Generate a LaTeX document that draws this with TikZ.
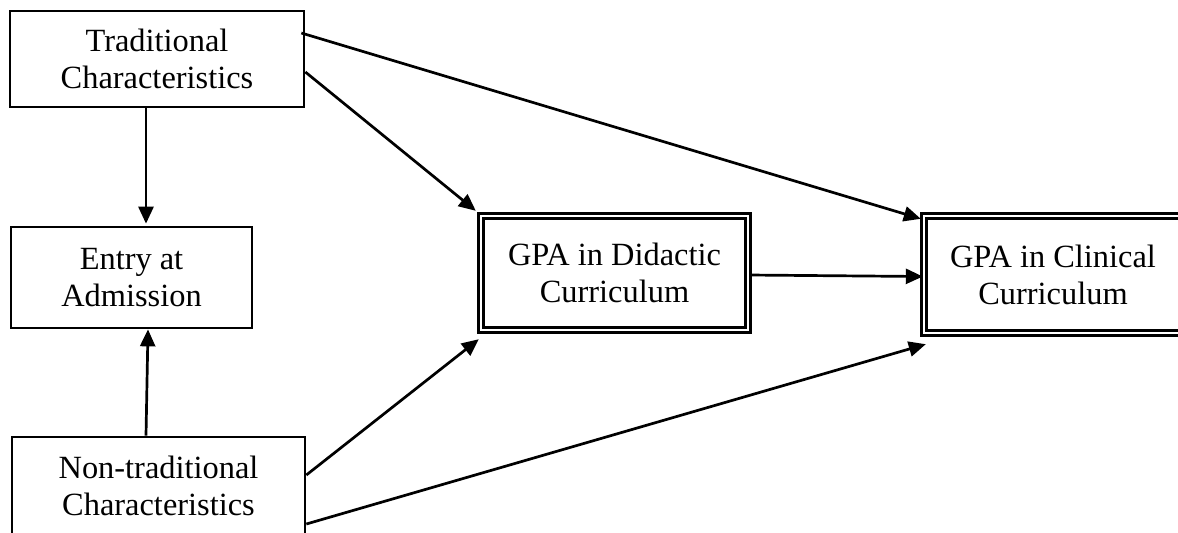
\documentclass[tikz,border=0pt]{standalone}
\usepackage{fontspec}
\setmainfont{Liberation Serif}
\usepackage{tikz}
\usetikzlibrary{arrows.meta,calc}

\begin{document}
\begin{tikzpicture}[
    x=0.5pt, y=-0.5pt,
    varbox/.style={
        draw=black,
        line width=1.35pt,
        align=center,
        inner sep=0pt,
        font=\fontsize{16.2}{18.5}\selectfont
    },
    outbox/.style={
        varbox,
        double=white,
        line width=1.2pt,
        double distance=1.4pt
    },
    path/.style={
        line width=1.35pt,
        -{Triangle[length=8.5pt,width=7.5pt]}
    }
]
    \useasboundingbox (0,0) rectangle (1178,532);

    % Predictors
    \node[varbox, minimum width=147pt, minimum height=48pt]
        (trad) at (157,59) {Traditional\\Characteristics};
    \node[varbox, minimum width=120.5pt, minimum height=50.5pt]
        (entry) at (131.5,277.5) {Entry at\\Admission};
    \node[varbox, minimum width=146.5pt, minimum height=48.5pt]
        (nontrad) at (158.5,485.5) {Non-traditional\\Characteristics};

    % Outcomes
    \node[outbox, minimum width=133.5pt, minimum height=57pt]
        (did) at (614.5,273) {GPA in Didactic\\Curriculum};
    \node[outbox, minimum width=129pt, minimum height=58.5pt]
        (clin) at (1053,274.5) {GPA in Clinical\\Curriculum};

    % Paths
    \draw[path] ([xshift=-5.5pt]trad.south) -- ([xshift=7.25pt,yshift=1pt]entry.north);
    \draw[path] ([xshift=-6.25pt]nontrad.north) -- ([xshift=8.25pt]entry.south);
    \draw[path] ([yshift=-6.5pt]trad.east) -- ([xshift=-2pt,yshift=2pt]did.north west);
    \draw[path] ([xshift=-2pt,yshift=13pt]trad.east) -- ([xshift=-1pt,yshift=-2pt]clin.north west);
    \draw[path] ([yshift=-1pt]did.east) -- ([yshift=-1pt]clin.west);
    \draw[path] ([yshift=5.25pt]nontrad.east) -- ([xshift=-0.5pt,yshift=-4pt]did.south west);
    \draw[path] ([yshift=-19.25pt]nontrad.east) -- ([xshift=1.5pt,yshift=-5pt]clin.south west);
\end{tikzpicture}
\end{document}
